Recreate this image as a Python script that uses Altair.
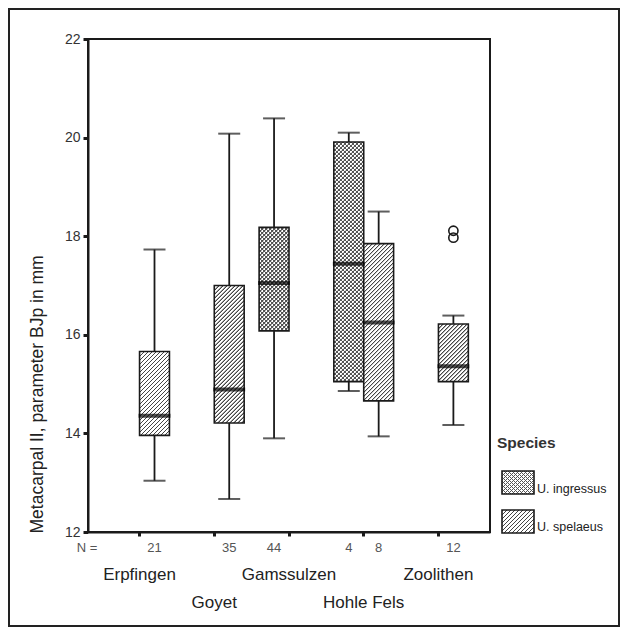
import altair as alt
import pandas as pd

# ---------------- data ----------------
sites_order = ["Erpfingen", "Goyet", "Gamssulzen", "Hohle Fels", "Zoolithen"]
site_row = [0, 1, 0, 1, 0]
species_order = ["U. ingressus", "U. spelaeus"]

box_site = ["Erpfingen", "Goyet", "Gamssulzen", "Hohle Fels", "Hohle Fels", "Zoolithen"]
box_species = ["U. spelaeus", "U. spelaeus", "U. ingressus", "U. ingressus", "U. spelaeus", "U. spelaeus"]
box_n = [21, 35, 44, 4, 8, 12]
box_low = [13.04, 12.67, 13.90, 14.86, 13.94, 14.17]
box_q1 = [13.96, 14.21, 16.08, 15.05, 14.66, 15.05]
box_med = [14.36, 14.89, 17.05, 17.44, 16.25, 15.36]
box_q3 = [15.66, 17.00, 18.18, 19.91, 17.85, 16.22]
box_high = [17.73, 20.08, 20.39, 20.10, 18.50, 16.39]

out_site = ["Zoolithen", "Zoolithen"]
out_species = ["U. spelaeus", "U. spelaeus"]
out_value = [18.11, 17.97]

y_ticks = [12, 14, 16, 18, 20, 22]

df = pd.DataFrame({
    "site": box_site, "species": box_species, "n": box_n,
    "low": box_low, "q1": box_q1, "med": box_med, "q3": box_q3, "high": box_high,
})
df_out = pd.DataFrame({"site": out_site, "species": out_species, "value": out_value})
df_sites = pd.DataFrame({"site": sites_order, "row": site_row})

# ---------------- layout ----------------
W, H = 402, 493
YMIN, YMAX = 12, 22
P_IN, P_OUT = 0.2, 0.29
step = W / (len(sites_order) - P_IN + 2 * P_OUT)
box_w = step * (1 - P_IN) / 2
FONT = "Liberation Sans, Arial, Helvetica, sans-serif"
INK = "#1a1a1a"


def hatch(w, h, direction, dark, light, period=4.0):
    """Diagonal stripes as a linear gradient, period measured along px+py."""
    L = w + h
    prof = [(0.0, light), (0.45, dark), (1.35, dark), (1.8, light), (period, light)]
    stops = []
    k = 0
    while k * period < L:
        for u, col in prof:
            off = (k * period + u) / L
            if off <= 1.0:
                stops.append((off, col))
        k += 1
    s = L / (w * w + h * h)
    if direction == "/":
        x1, y1, x2, y2 = 0, 0, w * s, h * s
    else:
        x1, y1, x2, y2 = 0, 1, w * s, 1 - h * s
    return {
        "gradient": "linear",
        "stops": [{"offset": round(o, 6), "color": col} for o, col in stops],
        "x1": x1, "y1": y1, "x2": x2, "y2": y2,
    }


x_enc = alt.X(
    "site:N",
    scale=alt.Scale(domain=sites_order, paddingInner=P_IN, paddingOuter=P_OUT),
    axis=alt.Axis(labels=False, title=None, ticks=True, tickSize=4, tickWidth=3,
                  tickColor=INK, domainColor=INK, domainWidth=2, grid=False),
)
xo_enc = alt.XOffset("species:N", scale=alt.Scale(domain=species_order, paddingInner=0, paddingOuter=0))
y_scale = alt.Scale(domain=[YMIN, YMAX], nice=False, zero=False)

base = alt.Chart(df)

y_axis = alt.Axis(
    values=y_ticks, grid=False, tickSize=5, tickWidth=3, tickColor=INK,
    domainColor=INK, domainWidth=2, labelFontSize=14, labelColor="#333",
    labelPadding=3, labelFont=FONT,
    title="Metacarpal II, parameter BJp in mm", titleFont=FONT, titleFontSize=17.5,
    titleFontWeight="normal", titleColor="#222", titleAngle=-90, titleX=-51, titleY=H + 1,
    titleAlign="left", titleBaseline="middle",
)

whisk_hi = base.mark_rule(color=INK, strokeWidth=1.8).encode(
    x=x_enc, xOffset=xo_enc,
    y=alt.Y("high:Q", scale=y_scale, axis=y_axis), y2="q3:Q")
whisk_lo = base.mark_rule(color=INK, strokeWidth=1.8).encode(
    x=x_enc, xOffset=xo_enc, y=alt.Y("q1:Q", scale=y_scale), y2="low:Q")
cap_hi = base.mark_tick(color=INK, size=22, thickness=2).encode(
    x=x_enc, xOffset=xo_enc, y=alt.Y("high:Q", scale=y_scale))
cap_lo = base.mark_tick(color=INK, size=22, thickness=2).encode(
    x=x_enc, xOffset=xo_enc, y=alt.Y("low:Q", scale=y_scale))

box_layers = []
for i in range(len(box_site)):
    h_px = (box_q3[i] - box_q1[i]) / (YMAX - YMIN) * H
    sub = alt.Chart(df.iloc[[i]])
    enc = dict(x=x_enc, xOffset=xo_enc, y=alt.Y("q1:Q", scale=y_scale), y2="q3:Q")
    if box_species[i] == "U. ingressus":
        box_layers.append(sub.mark_bar(fill=hatch(box_w, h_px, "/", "#555", "#ffffff")).encode(**enc))
        box_layers.append(sub.mark_bar(fill=hatch(box_w, h_px, "\\", "#555", "transparent"),
                                       stroke=INK, strokeWidth=1.6).encode(**enc))
    else:
        box_layers.append(sub.mark_bar(fill=hatch(box_w, h_px, "/", "#444", "#ffffff"),
                                       stroke=INK, strokeWidth=1.6).encode(**enc))

medians = base.mark_tick(color="#000", size=box_w + 2, thickness=4).encode(
    x=x_enc, xOffset=xo_enc, y=alt.Y("med:Q", scale=y_scale))

outliers = alt.Chart(df_out).mark_point(shape="circle", filled=False, size=85, color=INK,
                                        strokeWidth=1.6, opacity=1).encode(
    x=x_enc, xOffset=xo_enc, y=alt.Y("value:Q", scale=y_scale))

counts = base.mark_text(fontSize=13, color="#555", font=FONT, baseline="middle").encode(
    x=x_enc, xOffset=xo_enc, y=alt.value(509), text="n:N")
n_label = alt.Chart(df_sites.iloc[[0]]).mark_text(
    text="N =", fontSize=13, color="#555", font=FONT, baseline="middle").encode(
    x=alt.value(-1), y=alt.value(509))

site_top = alt.Chart(df_sites).transform_filter("datum.row == 0").mark_text(
    fontSize=17, color="#222", font=FONT, baseline="middle").encode(
    x=x_enc, y=alt.value(536), text="site:N")
site_bot = alt.Chart(df_sites).transform_filter("datum.row == 1").mark_text(
    fontSize=17, color="#222", font=FONT, baseline="middle").encode(
    x=x_enc, y=alt.value(564), text="site:N")

# legend (drawn by hand so the hatch patterns can be shown)
leg = alt.Chart(df_sites.iloc[[0]])
LX, LW, LH = 414, 32, 23
leg_title = leg.mark_text(text="Species", fontSize=15.5, fontWeight="bold", color="#333",
                          font=FONT, align="left", baseline="middle").encode(
    x=alt.value(409), y=alt.value(404))
leg_a1 = leg.mark_rect(fill=hatch(LW, LH, "/", "#555", "#ffffff")).encode(
    x=alt.value(LX), x2=alt.value(LX + LW), y=alt.value(432), y2=alt.value(432 + LH))
leg_a2 = leg.mark_rect(fill=hatch(LW, LH, "\\", "#555", "transparent"), stroke=INK,
                       strokeWidth=1.6).encode(
    x=alt.value(LX), x2=alt.value(LX + LW), y=alt.value(432), y2=alt.value(432 + LH))
leg_b = leg.mark_rect(fill=hatch(LW, LH, "/", "#444", "#ffffff"), stroke=INK,
                      strokeWidth=1.6).encode(
    x=alt.value(LX), x2=alt.value(LX + LW), y=alt.value(471), y2=alt.value(471 + LH))
leg_t1 = leg.mark_text(text="U. ingressus", fontSize=12.5, color="#222", font=FONT,
                       align="left", baseline="middle").encode(x=alt.value(449), y=alt.value(450))
leg_t2 = leg.mark_text(text="U. spelaeus", fontSize=12.5, color="#222", font=FONT,
                       align="left", baseline="middle").encode(x=alt.value(449), y=alt.value(488))

frame = leg.mark_rect(fill="transparent", stroke="#222", strokeWidth=2).encode(
    x=alt.value(-79), x2=alt.value(531), y=alt.value(-30), y2=alt.value(587))

chart = alt.layer(
    frame, whisk_hi, whisk_lo, cap_hi, cap_lo, *box_layers, medians, outliers,
    counts, n_label, site_top, site_bot,
    leg_title, leg_a1, leg_a2, leg_b, leg_t1, leg_t2,
).properties(
    width=W, height=H,
    autosize=alt.AutoSizeParams(type="none"),
    padding={"left": 80, "top": 31, "right": 130, "bottom": 96},
).configure(
    font=FONT, background="white"
).configure_view(
    stroke=INK, strokeWidth=2
)

chart.save("out.html", embed_options={"renderer": "svg", "actions": False})
